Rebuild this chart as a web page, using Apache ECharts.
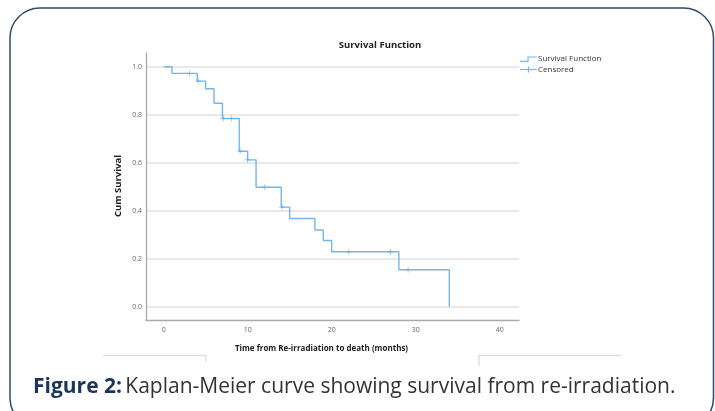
<!DOCTYPE html>
<html>
<head>
<meta charset="utf-8">
<script src="https://cdn.jsdelivr.net/npm/echarts@6/dist/echarts.min.js"></script>
<style>
html,body{margin:0;padding:0;background:#fff;}
#c{width:715px;height:411px;}
</style>
</head>
<body>
<div id="c"></div>
<script>
// Kaplan-Meier survival steps (time in months, cumulative survival)
const eventTimes = [0, 1, 4, 5, 6, 7, 9, 10, 11, 14, 15, 18, 19, 20, 28, 34];
const survival  = [1.0, 0.972, 0.940, 0.908, 0.848, 0.784, 0.648, 0.612, 0.498, 0.415, 0.368, 0.320, 0.276, 0.229, 0.154, 0.0];
// Censored observations
const censorTimes = [3.1, 4.1, 7.1, 8.05, 9.1, 10.0, 12.05, 14.1, 22.05, 27.0, 29.1];
const censorSurv  = [0.972, 0.940, 0.784, 0.784, 0.648, 0.612, 0.498, 0.415, 0.229, 0.229, 0.154];

const xTicks = [0, 10, 20, 30, 40];
const yTicks = [0.0, 0.2, 0.4, 0.6, 0.8, 1.0];

const curveColor = '#74b6ec';
const plusPath = 'path://M0,4.4H10V5.6H0Z M4.4,0H5.6V10H4.4Z';

const chart = echarts.init(document.getElementById('c'), null, {renderer: 'canvas'});
const font = '"Open Sans", "Noto Sans", sans-serif';

chart.setOption({
  animation: false,
  backgroundColor: '#fff',
  grid: {left: 146, right: 196, top: 53, bottom: 91, containLabel: false},
  xAxis: {
    type: 'value', min: -2.1, max: 42.3, splitNumber: 5,
    axisLine: {show: true, onZero: false, lineStyle: {color: '#aaaaaa', width: 1.3}},
    axisTick: {show: false},
    splitLine: {show: false},
    axisLabel: {
      color: '#666', fontSize: 7, fontFamily: font, margin: 6,
      showMinLabel: false, showMaxLabel: false,
      formatter: v => (xTicks.indexOf(v) >= 0 ? String(v) : '')
    }
  },
  yAxis: {
    type: 'value', min: -0.055, max: 1.057, splitNumber: 5,
    axisLine: {show: true, onZero: false, lineStyle: {color: '#aaaaaa', width: 1.3}},
    axisTick: {show: false},
    splitLine: {show: true, showMinLine: false, showMaxLine: false, lineStyle: {color: '#e2e2e2', width: 1.5}},
    axisLabel: {
      color: '#666', fontSize: 7, fontFamily: font, margin: 4,
      showMinLabel: false, showMaxLabel: false,
      formatter: v => {
        const hit = yTicks.some(t => Math.abs(t - v) < 1e-9);
        return hit ? v.toFixed(1) : '';
      }
    }
  },
  series: [
    {
      type: 'line', step: 'end', symbol: 'none',
      data: eventTimes.map((t, i) => [t, survival[i]]),
      lineStyle: {color: curveColor, width: 1.4},
      z: 3
    },
    {
      type: 'scatter', symbol: plusPath, symbolSize: 6,
      data: censorTimes.map((t, i) => [t, censorSurv[i]]),
      itemStyle: {color: '#5fa6e3'},
      z: 4
    }
  ],
  graphic: [
    // outer rounded frame
    {type: 'rect', shape: {x: 10, y: 8, width: 703.5, height: 420, r: 30}, style: {fill: 'none', stroke: '#2f4a6d', lineWidth: 1.5}, z: 10},
    // decorative lines under the chart
    {type: 'polyline', shape: {points: [[103, 355.5], [206, 355.5], [206, 362]]}, style: {fill: 'none', stroke: '#dcdcdc', lineWidth: 1.3}},
    {type: 'polyline', shape: {points: [[479, 366], [479, 355.5], [621, 355.5]]}, style: {fill: 'none', stroke: '#dcdcdc', lineWidth: 1.3}},
    // chart title
    {type: 'text', x: 380, y: 45, style: {text: 'Survival Function', fontSize: 9.5, fontWeight: 'bold', fontFamily: font, fill: '#222', align: 'center', verticalAlign: 'middle'}},
    // axis names
    {type: 'text', x: 321.5, y: 349, style: {text: 'Time from Re-irradiation to death (months)', fontSize: 8, fontWeight: 'bold', fontFamily: font, fill: '#222', align: 'center', verticalAlign: 'middle'}},
    {type: 'text', x: 118.5, y: 186, rotation: Math.PI / 2, style: {text: 'Cum Survival', fontSize: 9.5, fontWeight: 'bold', fontFamily: font, fill: '#222', align: 'center', verticalAlign: 'middle'}},
    // legend
    {type: 'polyline', shape: {points: [[520, 61.3], [528, 61.3], [528, 57], [537, 57]]}, style: {fill: 'none', stroke: curveColor, lineWidth: 1.2}},
    {type: 'text', x: 538, y: 59, style: {text: 'Survival Function', fontSize: 8, fontFamily: font, fill: '#333', verticalAlign: 'middle'}},
    {type: 'line', shape: {x1: 520, y1: 69.5, x2: 537, y2: 69.5}, style: {stroke: curveColor, lineWidth: 1.2}},
    {type: 'line', shape: {x1: 528.5, y1: 66.5, x2: 528.5, y2: 72.5}, style: {stroke: curveColor, lineWidth: 1.2}},
    {type: 'text', x: 538, y: 70, style: {text: 'Censored', fontSize: 8, fontFamily: font, fill: '#333', verticalAlign: 'middle'}},
    // caption
    {type: 'text', x: 33, y: 387, style: {
      text: '{b|Figure 2:} {n|Kaplan-Meier curve showing survival from re-irradiation.}',
      verticalAlign: 'middle',
      rich: {
        b: {fontSize: 21, fontWeight: 'bold', fontFamily: font, fill: '#1d3658', color: '#1d3658'},
        n: {fontSize: 21, fontFamily: font, fill: '#333', color: '#333'}
      }
    }}
  ]
});
</script>
</body>
</html>
